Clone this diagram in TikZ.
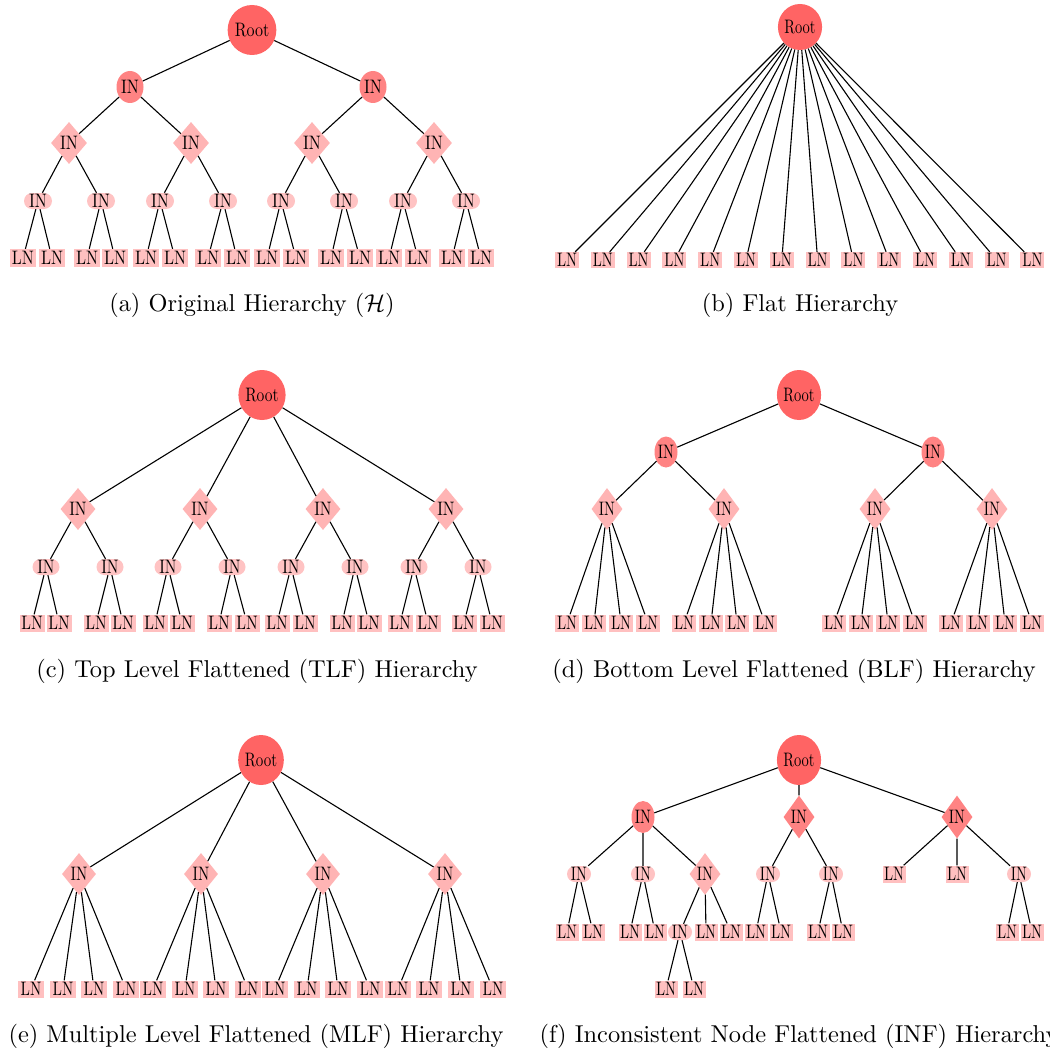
\documentclass[tikz,border=0pt]{standalone}
\usepackage{graphicx}
\usetikzlibrary{shapes.geometric}

\definecolor{rootc}{HTML}{FF6464}
\definecolor{inc}{HTML}{FF8383}
\definecolor{diac}{HTML}{FFB4B4}
\definecolor{pillc}{HTML}{FFC3C3}
\definecolor{leafc}{HTML}{FFC0C0}

% node labels are set in a narrowed, enlarged serif
\newcommand\txs{1.6}
\newcommand\nt[1]{\scalebox{\txs}[1.95]{#1}}
\newcommand\panelcaption[1]{\scalebox{2.44}{#1}}

\begin{document}
\begin{tikzpicture}[x=1pt, y=-1pt,
  rootn/.style={ellipse, fill=rootc, inner sep=0pt, minimum width=42pt, minimum height=50pt},
  inn/.style={ellipse, fill=inc, inner sep=0pt, minimum width=27pt, minimum height=32pt},
  dian/.style={diamond, fill=diac, inner sep=0pt, minimum width=36pt, minimum height=42pt},
  pilln/.style={rectangle, rounded corners=8pt, fill=pillc, inner sep=0pt, minimum width=28pt, minimum height=16pt},
  leafn/.style={rectangle, fill=leafc, inner sep=0pt, minimum width=26pt, minimum height=18pt},
  conn/.style={draw=black, line width=1.1pt},
  captn/.style={anchor=base, inner sep=0pt}]

\useasboundingbox[fill=white] (0,0) rectangle (1049,1051);

% ---------------- (a) original hierarchy ----------------
\begin{scope}
\def\txs{1.6}
\node[rootn] (a0) at (252,30) {\nt{Root}};
\node[inn] (a1) at (130,87) {\nt{IN}};
\node[inn] (a2) at (373,87) {\nt{IN}};
\foreach \x [count=\i] in {69,191,312,434}
  \node[dian] (ad\i) at (\x,143) {\nt{IN}};
\foreach \x [count=\i] in {38,101,160,223,281,344,403,466}
  \node[pilln] (ap\i) at (\x,201) {\nt{IN}};
\foreach \x [count=\i] in {23,52,87,115,146,175,208,237,267,296,331,360,389,418,452,481}
  \node[leafn] (al\i) at (\x,258) {\nt{LN}};
\draw[conn] (a0) -- (a1) (a0) -- (a2)
  (a1) -- (ad1) (a1) -- (ad2) (a2) -- (ad3) (a2) -- (ad4);
\foreach \d in {1,...,4} {
  \pgfmathtruncatemacro\p{2*\d-1}\pgfmathtruncatemacro\q{2*\d}
  \draw[conn] (ad\d) -- (ap\p) (ad\d) -- (ap\q);
}
\foreach \k in {1,...,8} {
  \pgfmathtruncatemacro\p{2*\k-1}\pgfmathtruncatemacro\q{2*\k}
  \draw[conn] (ap\k) -- (al\p) (ap\k) -- (al\q);
}
\node[captn] (acap) at (252,311) {\panelcaption{(a) Original Hierarchy ($\mathcal{H}$)}};
\end{scope}

% ---------------- (b) flat hierarchy ----------------
\begin{scope}[leafn/.append style={minimum width=24pt, minimum height=16pt}]
\def\txs{1.45}
\node[rootn, minimum width=38pt, minimum height=46pt] (b0) at (800,27) {\nt{Root}};
\foreach \i in {0,...,13} {
  \node[leafn] (bl\i) at ({567+35.8*\i},260) {\nt{LN}};
  \draw[conn] (b0) -- (bl\i);
}
\node[captn] (bcap) at (800,311) {\panelcaption{(b) Flat Hierarchy}};
\end{scope}

% ---------------- (c) top level flattened ----------------
\begin{scope}[leafn/.append style={minimum width=25pt, minimum height=17pt},
              dian/.append style={minimum width=35pt},
              pilln/.append style={minimum width=27pt}]
\def\txs{1.55}
\node[rootn, minimum width=40pt] (c0) at (262,395) {\nt{Root}};
\foreach \x [count=\i] in {78,200,323,446} {
  \node[dian] (cd\i) at (\x,509) {\nt{IN}};
  \draw[conn] (c0) -- (cd\i);
}
\foreach \x [count=\i] in {46,110,168,232,291,355,414,478}
  \node[pilln] (cp\i) at (\x,567) {\nt{IN}};
\foreach \x [count=\i] in {32,59,96,123,155,182,219,247,277,305,342,369,400,428,464,492}
  \node[leafn] (cl\i) at (\x,623) {\nt{LN}};
\foreach \d in {1,...,4} {
  \pgfmathtruncatemacro\p{2*\d-1}\pgfmathtruncatemacro\q{2*\d}
  \draw[conn] (cd\d) -- (cp\p) (cd\d) -- (cp\q);
}
\foreach \k in {1,...,8} {
  \pgfmathtruncatemacro\p{2*\k-1}\pgfmathtruncatemacro\q{2*\k}
  \draw[conn] (cp\k) -- (cl\p) (cp\k) -- (cl\q);
}
\node[captn] (ccap) at (257,677) {\panelcaption{(c) Top Level Flattened (TLF) Hierarchy}};
\end{scope}

% ---------------- (d) bottom level flattened ----------------
\begin{scope}[leafn/.append style={minimum width=24pt, minimum height=17pt},
              dian/.append style={minimum width=31pt},
              inn/.append style={minimum width=23pt, minimum height=31pt}]
\def\txs{1.45}
\node[rootn, minimum width=36pt] (d0) at (799,395) {\nt{Root}};
\node[inn] (d1) at (666,452) {\nt{IN}};
\node[inn] (d2) at (933,452) {\nt{IN}};
\foreach \x [count=\i] in {607,724,875,992}
  \node[dian] (dd\i) at (\x,509) {\nt{IN}};
\foreach \x [count=\i] in {567,594,621,648,684,711,737,765,834,861,888,915,951,978,1005,1032}
  \node[leafn] (dl\i) at (\x,623) {\nt{LN}};
\draw[conn] (d0) -- (d1) (d0) -- (d2)
  (d1) -- (dd1) (d1) -- (dd2) (d2) -- (dd3) (d2) -- (dd4);
\foreach \d in {1,...,4} {
  \foreach \j in {1,...,4} {
    \pgfmathtruncatemacro\p{4*(\d-1)+\j}
    \draw[conn] (dd\d) -- (dl\p);
  }
}
\node[captn] (dcap) at (794,677) {\panelcaption{(d) Bottom Level Flattened (BLF) Hierarchy}};
\end{scope}

% ---------------- (e) multiple level flattened ----------------
\begin{scope}[leafn/.append style={minimum width=26pt, minimum height=17pt},
              dian/.append style={minimum width=34pt}]
\def\txs{1.5}
\node[rootn, minimum width=38pt] (e0) at (261,760) {\nt{Root}};
\foreach \x [count=\i] in {79,201,323,445} {
  \node[dian] (ed\i) at (\x,874) {\nt{IN}};
  \draw[conn] (e0) -- (ed\i);
}
\foreach \x [count=\i] in {31,63,94,126,153,185,216,248,275,307,338,370,398,429,461,493}
  \node[leafn] (el\i) at (\x,989) {\nt{LN}};
\foreach \d in {1,...,4} {
  \foreach \j in {1,...,4} {
    \pgfmathtruncatemacro\p{4*(\d-1)+\j}
    \draw[conn] (ed\d) -- (el\p);
  }
}
\node[captn] (ecap) at (256,1042) {\panelcaption{(e) Multiple Level Flattened (MLF) Hierarchy}};
\end{scope}

% ---------------- (f) inconsistent node flattened ----------------
\begin{scope}[leafn/.append style={minimum width=23pt, minimum height=17pt},
              dian/.append style={minimum width=31pt, minimum height=43pt},
              inn/.append style={minimum width=23pt},
              pilln/.append style={minimum width=24pt}]
\def\txs{1.45}
\node[rootn, minimum width=37pt] (f0) at (799,760) {\nt{Root}};
% first level
\node[inn] (f1) at (643,817) {\nt{IN}};
\node[dian, fill=inc] (f2) at (799,817) {\nt{IN}};
\node[dian, fill=inc] (f3) at (957,817) {\nt{IN}};
% second level
\node[pilln] (f11) at (579,874) {\nt{IN}};
\node[pilln] (f12) at (643,874) {\nt{IN}};
\node[dian, minimum height=42pt] (f13) at (705,874) {\nt{IN}};
\node[pilln] (f21) at (768,874) {\nt{IN}};
\node[pilln] (f22) at (831,874) {\nt{IN}};
\node[leafn] (f31) at (894,874) {\nt{LN}};
\node[leafn] (f32) at (957,874) {\nt{LN}};
\node[pilln] (f33) at (1019,874) {\nt{IN}};
% third level
\node[leafn] (f111) at (567,932) {\nt{LN}};
\node[leafn] (f112) at (593,932) {\nt{LN}};
\node[leafn] (f121) at (630,932) {\nt{LN}};
\node[leafn] (f122) at (655,932) {\nt{LN}};
\node[pilln] (f131) at (680,932) {\nt{IN}};
\node[leafn] (f132) at (706,932) {\nt{LN}};
\node[leafn] (f133) at (731,932) {\nt{LN}};
\node[leafn] (f211) at (756,932) {\nt{LN}};
\node[leafn] (f212) at (781,932) {\nt{LN}};
\node[leafn] (f221) at (818,932) {\nt{LN}};
\node[leafn] (f222) at (843,932) {\nt{LN}};
\node[leafn] (f331) at (1007,932) {\nt{LN}};
\node[leafn] (f332) at (1032,932) {\nt{LN}};
% fourth level
\node[leafn] (f1311) at (666,989) {\nt{LN}};
\node[leafn] (f1312) at (694,989) {\nt{LN}};
\draw[conn] (f0) -- (f1) (f0) -- (f2) (f0) -- (f3)
  (f1) -- (f11) (f1) -- (f12) (f1) -- (f13)
  (f2) -- (f21) (f2) -- (f22)
  (f3) -- (f31) (f3) -- (f32) (f3) -- (f33)
  (f11) -- (f111) (f11) -- (f112)
  (f12) -- (f121) (f12) -- (f122)
  (f13) -- (f131) (f13) -- (f132) (f13) -- (f133)
  (f21) -- (f211) (f21) -- (f212)
  (f22) -- (f221) (f22) -- (f222)
  (f33) -- (f331) (f33) -- (f332)
  (f131) -- (f1311) (f131) -- (f1312);
\node[captn] (fcap) at (799,1042) {\panelcaption{(f) Inconsistent Node Flattened (INF) Hierarchy}};
\end{scope}

\end{tikzpicture}
\end{document}
